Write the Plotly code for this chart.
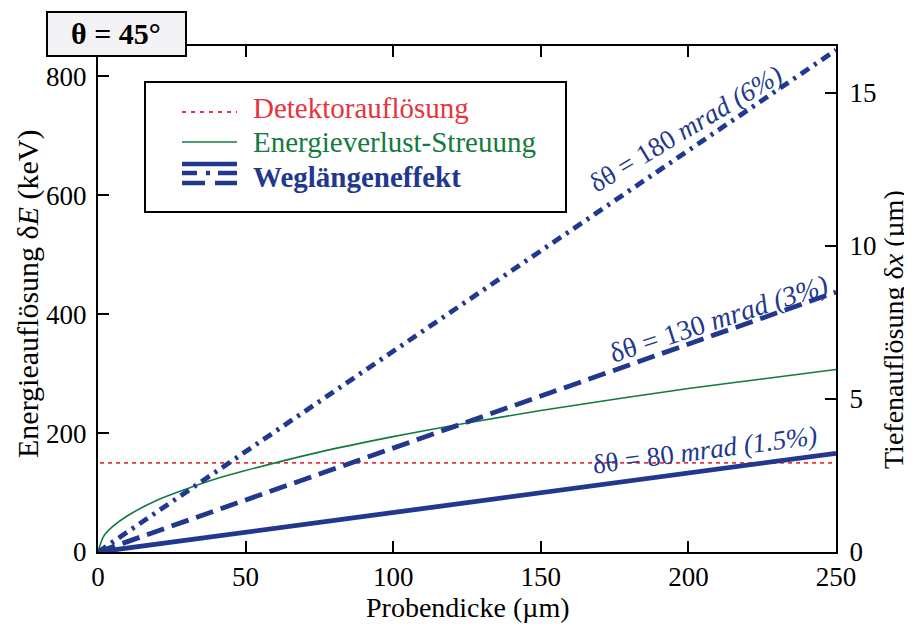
import plotly.graph_objects as go

# ---- data ----
thickness_um = [0, 2, 5, 10, 20, 30, 40, 50, 75, 100, 125, 150, 175, 200, 225, 250]
straggling_keV = [0, 27, 43, 61, 87, 106, 123, 137, 168, 194, 217, 238, 257, 275, 291, 307]
detector_x = [0.7, 250]
detector_keV = [150, 150]
path_x = [0, 250]
path_80mrad = [0, 166]
path_130mrad = [0, 437]
path_180mrad = [0, 844]
x_ticks = [0, 50, 100, 150, 200, 250]
y_ticks = [0, 200, 400, 600, 800]
y2_ticks = [0, 5, 10, 15]

RED = "#e8333d"
GREEN = "#137a40"
BLUE = "#22388f"
FONT = "Liberation Serif"

fig = go.Figure()
fig.add_trace(go.Scatter(x=detector_x, y=detector_keV, mode="lines",
                         line=dict(color=RED, width=1.8, dash="4px,4px"), showlegend=False))
fig.add_trace(go.Scatter(x=thickness_um, y=straggling_keV, mode="lines", line_shape="spline",
                         line=dict(color=GREEN, width=1.6), showlegend=False))
fig.add_trace(go.Scatter(x=path_x, y=path_80mrad, mode="lines",
                         line=dict(color=BLUE, width=4.8), showlegend=False))
fig.add_trace(go.Scatter(x=path_x, y=path_130mrad, mode="lines",
                         line=dict(color=BLUE, width=4.8, dash="18px,8px"), showlegend=False))
fig.add_trace(go.Scatter(x=path_x, y=path_180mrad, mode="lines",
                         line=dict(color=BLUE, width=4.8, dash="10px,6px,3px,6px"), showlegend=False))
fig.add_trace(go.Scatter(x=[0], y=[0], yaxis="y2", mode="markers",
                         marker=dict(opacity=0), showlegend=False, hoverinfo="skip"))

axis_common = dict(showline=True, linecolor="black", linewidth=2, ticks="inside",
                   ticklen=11, tickwidth=1.8, tickcolor="black", showgrid=False, zeroline=False,
                   tickfont=dict(family=FONT, size=27, color="black"))

# page body has an 8px margin: plot area on screen is x 98..836, y 46..552
fig.update_layout(
    width=912, height=628,
    margin=dict(l=90, r=84, t=38, b=84),
    paper_bgcolor="white", plot_bgcolor="white",
    font=dict(family=FONT, color="black"),
    xaxis=dict(range=[0, 250], tickvals=x_ticks, mirror="ticks", ticklabelstandoff=0, **axis_common),
    yaxis=dict(range=[0, 850.9], tickvals=y_ticks, ticklabelstandoff=4, **axis_common),
    yaxis2=dict(range=[0, 16.53], tickvals=y2_ticks, overlaying="y", side="right",
                ticklabelstandoff=6, **axis_common),
)

def px_x(p):
    return (p - 98) / 738.0

def px_y(p):
    return (552 - p) / 506.0

ann = []
# line labels
ann.append(dict(x=199, y=712, xref="x", yref="y", text="δθ = 180 <i>mrad (6%)</i>",
                textangle=-31, showarrow=False, font=dict(family=FONT, size=27, color=BLUE)))
ann.append(dict(x=210.5, y=393, xref="x", yref="y", text="δθ = 130 <i>mrad (3%)</i>",
                textangle=-18, showarrow=False, font=dict(family=FONT, size=28, color=BLUE)))
ann.append(dict(x=205.6, y=171, xref="x", yref="y", text="δθ = 80 <i>mrad (1.5%)</i>",
                textangle=-7.5, showarrow=False, font=dict(family=FONT, size=27, color=BLUE)))

def pann(sx, sy, text, size, color, angle=0, xanchor="center"):
    return dict(x=px_x(sx), y=px_y(sy), xref="paper", yref="paper", text=text,
                textangle=angle, showarrow=False, xanchor=xanchor, yanchor="middle",
                font=dict(family=FONT, size=size, color=color))

# axis titles
ann.append(pann(28, 294, "Energieauflösung δ<i>E</i> (keV)", 30, "black", -90))
ann.append(pann(893, 329, "Tiefenauflösung δ<i>x</i> (µm)", 28, "black", -90))
ann.append(pann(468, 607, "Probendicke (µm)", 28, "black"))
# theta box text
ann.append(pann(116, 34, "<b>θ = 45°</b>", 30, "black"))
# legend texts
ann.append(pann(251, 108, "Detektorauflösung", 29, RED, xanchor="left"))
ann.append(pann(251, 142, "Energieverlust-Streuung", 29, GREEN, xanchor="left"))
ann.append(pann(251, 177, "<b>Weglängeneffekt</b>", 29, BLUE, xanchor="left"))
fig.update_layout(annotations=ann)

shapes = []
# theta box
shapes.append(dict(type="rect", xref="paper", yref="paper", x0=px_x(47), x1=px_x(186),
                   y0=px_y(56), y1=px_y(12), fillcolor="#f3f3f6",
                   line=dict(color="black", width=2), layer="above"))
# legend box
shapes.append(dict(type="rect", xref="paper", yref="paper", x0=px_x(145), x1=px_x(566),
                   y0=px_y(212), y1=px_y(82), fillcolor="white",
                   line=dict(color="black", width=2), layer="above"))

def seg(x0, x1, y, color, width, dash="solid"):
    return dict(type="line", xref="paper", yref="paper", x0=px_x(x0), x1=px_x(x1),
                y0=px_y(y), y1=px_y(y), line=dict(color=color, width=width, dash=dash), layer="above")

# legend samples
shapes.append(seg(182, 237, 112, RED, 1.8, "4px,5px"))
shapes.append(seg(182, 237, 142, GREEN, 1.6))
shapes.append(seg(182, 237, 164, BLUE, 4.5))
shapes.append(seg(182, 197, 173, BLUE, 4.5))
shapes.append(seg(206, 210, 173, BLUE, 4.5))
shapes.append(seg(218, 237, 173, BLUE, 4.5))
shapes.append(seg(182, 205, 183, BLUE, 4.5))
shapes.append(seg(215, 237, 183, BLUE, 4.5))
fig.update_layout(shapes=shapes)

fig.write_html("out.html")
